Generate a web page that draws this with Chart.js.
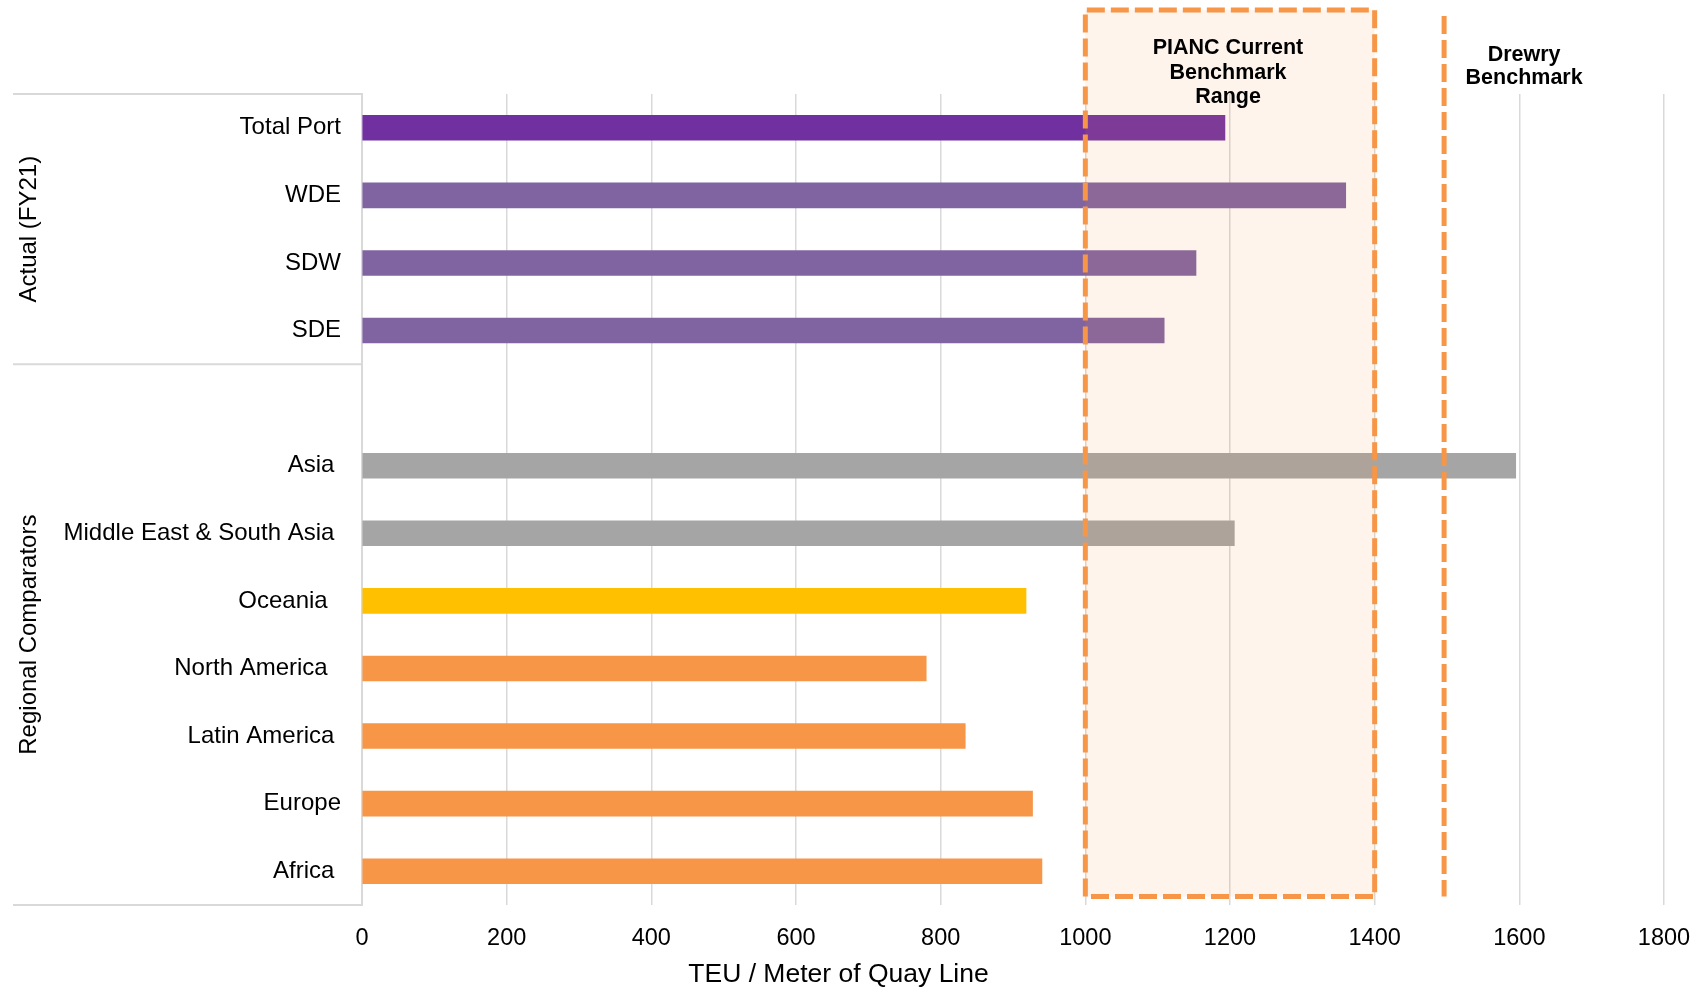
<!DOCTYPE html>
<html>
<head>
<meta charset="utf-8">
<title>TEU per Meter of Quay Line</title>
<script src="https://cdn.jsdelivr.net/npm/chart.js@4.4.1/dist/chart.umd.min.js"></script>
<style>
  html, body { margin: 0; padding: 0; background: #ffffff; }
  #wrap { width: 1704px; height: 992px; position: relative; }
</style>
</head>
<body>
<div id="wrap"><canvas id="chart"></canvas></div>
<script>
// Terminal and regional quay productivity, TEU per metre of quay line.
// Trailing spaces keep the label offsets of the original worksheet.
const categories = [
  "Total Port", "WDE", "SDW", "SDE", "",
  "Asia ", "Middle East & South Asia ", "Oceania  ", "North America  ",
  "Latin America ", "Europe", "Africa "
];
const teuPerMeter = [1193, 1360, 1153, 1109, null, 1595, 1206, 918, 780, 834, 927, 940];
const barColors = [
  "#7030A0", "#8064A2", "#8064A2", "#8064A2", "#ffffff",
  "#A5A5A5", "#A5A5A5", "#FFC000", "#F79646", "#F79646", "#F79646", "#F79646"
];
const xTickValues = [0, 200, 400, 600, 800, 1000, 1200, 1400, 1600, 1800];
const groups = [
  { label: "Actual (FY21)", first: 0, last: 3 },
  { label: "Regional Comparators", first: 4, last: 11 }
];
const piancRange = [1000, 1400];
const piancLabel = ["PIANC Current", "Benchmark", "Range"];
const drewryBenchmark = 1496;
const drewryLabel = ["Drewry", "Benchmark"];
const xAxisTitle = "TEU / Meter of Quay Line";

const FONT = "'Liberation Sans', Arial, Helvetica, sans-serif";
const ORANGE = "#F79646";
const RULE = "#d9d9d9";

const benchmarkPlugin = {
  id: "benchmarks",
  afterDatasetsDraw(chart) {
    const { ctx, chartArea, scales } = chart;
    const x = scales.x;
    const x0 = x.getPixelForValue(piancRange[0]);
    const x1 = x.getPixelForValue(piancRange[1]);
    const top = chartArea.top - 84;
    const bottom = chartArea.bottom - 8.5;

    ctx.save();
    // translucent band over the bars
    ctx.fillStyle = "rgba(247,150,70,0.1)";
    ctx.fillRect(x0, top, x1 - x0, bottom - top);

    // dashed outline of the band
    ctx.strokeStyle = ORANGE;
    ctx.lineWidth = 5;
    ctx.setLineDash([18, 6]);
    ctx.beginPath();
    ctx.moveTo(x0, bottom);
    ctx.lineTo(x0, top);
    ctx.lineTo(x1, top);
    ctx.lineTo(x1, bottom);
    ctx.lineTo(x0, bottom);
    ctx.stroke();

    // single benchmark line
    const xd = x.getPixelForValue(drewryBenchmark);
    ctx.beginPath();
    ctx.moveTo(xd, chartArea.top - 78);
    ctx.lineTo(xd, bottom);
    ctx.stroke();
    ctx.setLineDash([]);

    // labels
    ctx.fillStyle = "#000000";
    ctx.font = "bold 21.5px " + FONT;
    ctx.textAlign = "center";
    ctx.textBaseline = "middle";
    const xc = x.getPixelForValue(1200) - 2;
    piancLabel.forEach((t, i) => ctx.fillText(t, xc, chartArea.top - 46 + i * 24.7));
    drewryLabel.forEach((t, i) => ctx.fillText(t, xd + 80, chartArea.top - 39 + i * 23.5));
    ctx.restore();
  },
  afterDraw(chart) {
    const { ctx, chartArea, scales } = chart;
    const y = scales.y;
    const slot = (y.getPixelForValue(1) - y.getPixelForValue(0));
    const left = 13;
    const right = chartArea.left;

    ctx.save();
    ctx.strokeStyle = RULE;
    ctx.lineWidth = 2;
    const edges = [y.getPixelForValue(groups[0].first) - slot / 2];
    groups.forEach(g => edges.push(y.getPixelForValue(g.last) + slot / 2));
    edges.forEach(e => {
      ctx.beginPath();
      ctx.moveTo(left, e);
      ctx.lineTo(right, e);
      ctx.stroke();
    });

    // rotated group names
    ctx.fillStyle = "#000000";
    ctx.font = "24px " + FONT;
    ctx.textAlign = "center";
    ctx.textBaseline = "middle";
    groups.forEach(g => {
      const a = y.getPixelForValue(g.first) - slot / 2;
      const b = y.getPixelForValue(g.last) + slot / 2;
      ctx.save();
      ctx.translate(29, (a + b) / 2);
      ctx.rotate(-Math.PI / 2);
      ctx.fillText(g.label, 0, 0);
      ctx.restore();
    });

    // axis title centred across labels and plot
    ctx.font = "26.5px " + FONT;
    ctx.fillText(xAxisTitle, (left + chartArea.right) / 2, 975);
    ctx.restore();
  }
};

new Chart(document.getElementById("chart"), {
  type: "bar",
  data: {
    labels: categories,
    datasets: [{
      data: teuPerMeter,
      backgroundColor: barColors,
      borderWidth: 0,
      barThickness: 25
    }]
  },
  options: {
    indexAxis: "y",
    responsive: true,
    maintainAspectRatio: false,
    animation: false,
    layout: { padding: { top: 94, right: 40, bottom: 0, left: 0 } },
    plugins: { legend: { display: false }, tooltip: { enabled: false } },
    scales: {
      x: {
        type: "linear",
        min: 0,
        max: 1800,
        afterBuildTicks(scale) { scale.ticks = xTickValues.map(v => ({ value: v })); },
        afterFit(scale) {
          scale.height = 87;
          scale.paddingLeft = 0;
          scale.paddingRight = 0;
        },
        grid: { color: RULE, lineWidth: 1.5, drawTicks: false },
        border: { display: false },
        ticks: {
          color: "#000000",
          font: { family: FONT, size: 23.5 },
          padding: 19,
          maxRotation: 0,
          callback: v => String(v)
        }
      },
      y: {
        afterFit(scale) {
          scale.width = 362;
          scale.paddingTop = 0;
          scale.paddingBottom = 0;
        },
        grid: { display: false, drawTicks: false },
        border: { display: true, color: RULE, width: 2 },
        ticks: {
          color: "#000000",
          font: { family: FONT, size: 24 },
          padding: 21,
          autoSkip: false
        }
      }
    }
  },
  plugins: [benchmarkPlugin]
});
</script>
</body>
</html>
